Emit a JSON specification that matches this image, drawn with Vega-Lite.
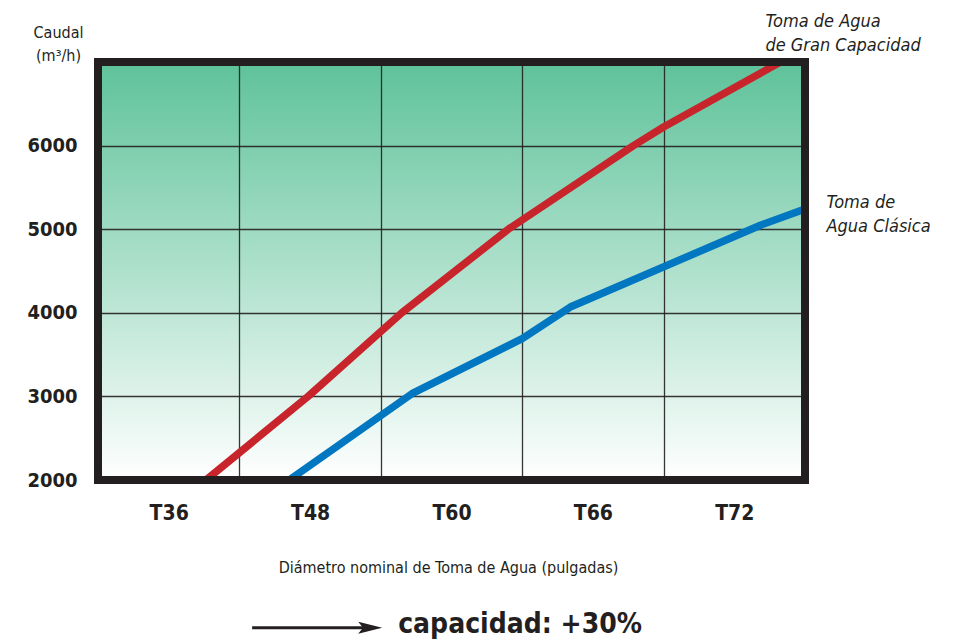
{
  "$schema": "https://vega.github.io/schema/vega-lite/v6.json",
  "width": 707,
  "height": 418,
  "autosize": {"type": "none"},
  "padding": {"left": 98, "top": 62, "right": 154, "bottom": 162},
  "background": "white",
  "view": {
    "stroke": null,
    "fill": {
      "gradient": "linear", "x1": 0, "y1": 0, "x2": 0, "y2": 1,
      "stops": [{"offset": 0, "color": "#5EC29A"}, {"offset": 1, "color": "#FFFFFF"}]
    }
  },
  "config": {"font": "Liberation Sans Narrow, DejaVu Sans Condensed, Liberation Sans"},
  "datasets": {
    "frame": [{"x0": 0, "x1": 5, "y0": 2000, "y1": 7000}],
    "series": [
      {"s": "Gran", "x": 0.764, "y": 2000},
      {"s": "Gran", "x": 1.486, "y": 3000},
      {"s": "Gran", "x": 2.149, "y": 4000},
      {"s": "Gran", "x": 2.902, "y": 5000},
      {"s": "Gran", "x": 3.787, "y": 6000},
      {"s": "Gran", "x": 4.0, "y": 6222},
      {"s": "Gran", "x": 4.827, "y": 7000},
      {"s": "Clasica", "x": 1.352, "y": 2000},
      {"s": "Clasica", "x": 2.22, "y": 3032},
      {"s": "Clasica", "x": 3.0, "y": 3691},
      {"s": "Clasica", "x": 3.34, "y": 4069},
      {"s": "Clasica", "x": 4.685, "y": 5048},
      {"s": "Clasica", "x": 5.0, "y": 5240}
    ],
    "labels": [
      {"x": 4.72, "y": 7480, "t": "Toma de Agua"},
      {"x": 4.72, "y": 7190, "t": "de Gran Capacidad"},
      {"x": 5.152, "y": 5310, "t": "Toma de"},
      {"x": 5.152, "y": 5030, "t": "Agua Clásica"}
    ],
    "note": [{"x": 2.123, "y": 262, "t": "capacidad: +30%"}],
    "arrow": [{"x": 1.09, "x2": 1.925, "y": 234}]
  },
  "layer": [
    {
      "data": {"name": "series"},
      "mark": {"type": "line", "strokeWidth": 7.5, "clip": true, "strokeJoin": "round"},
      "encoding": {
        "x": {
          "field": "x", "type": "quantitative",
          "scale": {"domain": [0, 5], "nice": false, "zero": false},
          "axis": {
            "values": [0.5, 1, 1.5, 2, 2.5, 3, 3.5, 4, 4.5],
            "labelExpr": "datum.value % 1 == 0 ? '' : ['T36','T48','T60','T66','T72'][floor(datum.value)]",
            "grid": true,
            "gridColor": "#231F20",
            "gridWidth": 1.3,
            "gridOpacity": {"condition": {"test": "datum.value % 1 == 0", "value": 0.9}, "value": 0},
            "ticks": false, "tickSize": 0, "domain": false,
            "labelFontSize": 21, "labelFontWeight": "bold", "labelColor": "#231F20",
            "labelPadding": 22, "labelOverlap": false, "labelBaseline": "top",
            "title": "Diámetro nominal de Toma de Agua (pulgadas)",
            "titleFontSize": 16, "titleFontWeight": "normal", "titleColor": "#231F20",
            "titleX": 350, "titleY": 87, "titleBaseline": "middle", "titleAlign": "center"
          }
        },
        "y": {
          "field": "y", "type": "quantitative",
          "scale": {"domain": [2000, 7000], "nice": false, "zero": false},
          "axis": {
            "values": [2000, 3000, 4000, 5000, 6000, 7000],
            "format": "d",
            "labelExpr": "datum.value == 7000 ? '' : datum.label",
            "grid": true, "gridColor": "#231F20", "gridWidth": 1.3, "gridOpacity": 0.9,
            "ticks": false, "tickSize": 0, "domain": false,
            "labelFontSize": 20, "labelFontWeight": "bold", "labelColor": "#231F20",
            "labelPadding": 21, "labelBaseline": "middle",
            "title": ["Caudal", "(m³/h)"],
            "titleAngle": 0, "titleAlign": "center", "titleBaseline": "top",
            "titleX": -40, "titleY": -38, "titleFontSize": 16, "titleFontWeight": "normal",
            "titleColor": "#231F20", "titleLineHeight": 23
          }
        },
        "color": {
          "field": "s", "type": "nominal",
          "scale": {"domain": ["Gran", "Clasica"], "range": ["#C8242B", "#0077C0"]},
          "legend": null
        }
      }
    },
    {
      "data": {"name": "frame"},
      "mark": {"type": "rect", "fill": null, "fillOpacity": 0, "stroke": "#231F20", "strokeWidth": 8},
      "encoding": {
        "x": {"field": "x0", "type": "quantitative"},
        "x2": {"field": "x1"},
        "y": {"field": "y0", "type": "quantitative"},
        "y2": {"field": "y1"}
      }
    },
    {
      "data": {"name": "labels"},
      "mark": {"type": "text", "align": "left", "baseline": "middle", "fontStyle": "italic", "fontSize": 18, "color": "#231F20"},
      "encoding": {
        "x": {"field": "x", "type": "quantitative"},
        "y": {"field": "y", "type": "quantitative"},
        "text": {"field": "t"}
      }
    },
    {
      "data": {"name": "note"},
      "mark": {"type": "text", "align": "left", "baseline": "middle", "fontWeight": "bold", "fontSize": 28, "color": "#231F20"},
      "encoding": {
        "x": {"field": "x", "type": "quantitative"},
        "y": {"field": "y", "type": "quantitative"},
        "text": {"field": "t"}
      }
    },
    {
      "data": {"name": "arrow"},
      "mark": {"type": "rule", "strokeWidth": 3, "color": "#231F20"},
      "encoding": {
        "x": {"field": "x", "type": "quantitative"},
        "x2": {"field": "x2"},
        "y": {"field": "y", "type": "quantitative"}
      }
    },
    {
      "data": {"name": "arrow"},
      "mark": {"type": "point", "shape": "M-1,-0.5L1,0L-1,0.5L-0.6,0Z", "size": 576, "filled": true, "opacity": 1, "color": "#231F20"},
      "encoding": {
        "x": {"field": "x2", "type": "quantitative"},
        "y": {"field": "y", "type": "quantitative"}
      }
    }
  ]
}
